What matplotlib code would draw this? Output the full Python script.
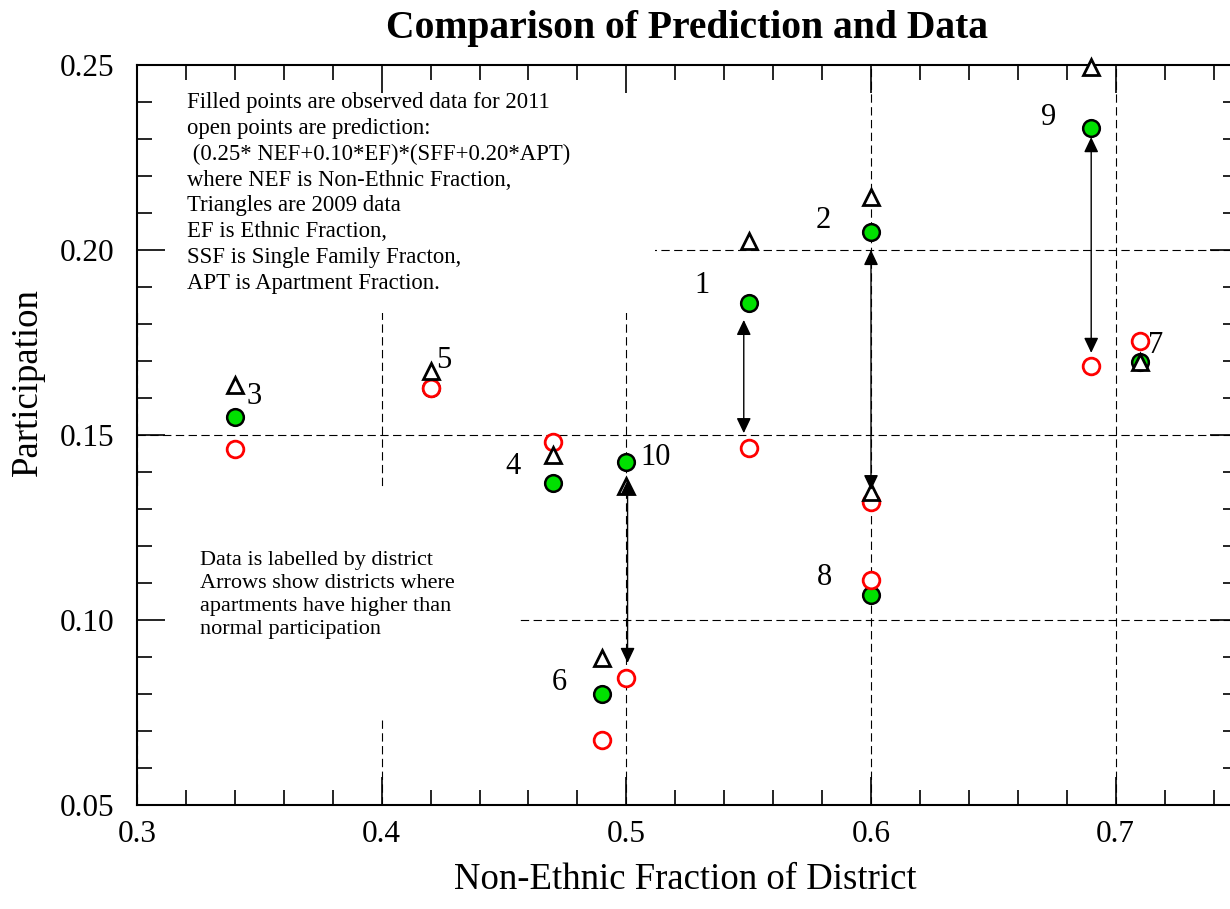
import matplotlib
matplotlib.use("Agg")
import matplotlib.pyplot as plt
from matplotlib.ticker import MultipleLocator, FormatStrFormatter
from matplotlib.patches import Rectangle

plt.rcParams['font.family'] = ['Liberation Serif', 'DejaVu Serif']

# ---------------- data ----------------
districts = ['1', '2', '3', '4', '5', '6', '7', '8', '9', '10']
nef = [0.55, 0.60, 0.34, 0.47, 0.42, 0.49, 0.71, 0.60, 0.69, 0.50]
observed_2011 = [0.1857, 0.2049, 0.1549, 0.1370, 0.1627, 0.0800, 0.1697, 0.1068, 0.2330, 0.1427]
predicted = [0.1465, 0.1319, 0.1462, 0.1481, 0.1627, 0.0676, 0.1754, 0.1108, 0.1686, 0.0843]
data_2009 = [0.2024, 0.2143, 0.1635, 0.1446, 0.1673, 0.0897, 0.1697, 0.1346, 0.2495, 0.1362]

# district label anchor positions (data coords)
label_x = [0.531, 0.5805, 0.3478, 0.4537, 0.4255, 0.4725, 0.7162, 0.5809, 0.6724, 0.5118]
label_y = [0.1905, 0.2081, 0.1603, 0.1414, 0.1700, 0.0830, 0.1743, 0.1116, 0.2357, 0.1440]

# arrows (apartment effect)
arrow_x = [0.548, 0.600, 0.690, 0.5005]
arrow_top = [0.1811, 0.2000, 0.2305, 0.1378]
arrow_bottom = [0.1505, 0.1351, 0.1722, 0.0884]

note_top = ("Filled points are observed data for 2011\n"
            "open points are prediction:\n"
            " (0.25* NEF+0.10*EF)*(SFF+0.20*APT)\n"
            "where NEF is Non-Ethnic Fraction,\n"
            "Triangles are 2009 data\n"
            "EF is Ethnic Fraction,\n"
            "SSF is Single Family Fracton,\n"
            "APT is Apartment Fraction.")
note_bottom = ("Data is labelled by district\n"
               "Arrows show districts where\n"
               "apartments have higher than\n"
               "normal participation")

# ---------------- figure ----------------
W, H = 1230, 909
fig = plt.figure(figsize=(W / 100, H / 100), dpi=100)
ax = fig.add_axes([137 / W, 104 / H, 1101 / W, 740 / H])
ax.set_xlim(0.3, 0.75)
ax.set_ylim(0.05, 0.25)

ax.xaxis.set_major_locator(MultipleLocator(0.1))
ax.xaxis.set_minor_locator(MultipleLocator(0.02))
ax.yaxis.set_major_locator(MultipleLocator(0.05))
ax.yaxis.set_minor_locator(MultipleLocator(0.01))
ax.xaxis.set_major_formatter(FormatStrFormatter('%.1f'))
ax.yaxis.set_major_formatter(FormatStrFormatter('%.2f'))

ax.tick_params(which='both', direction='in', top=True, right=True, width=1.2, labelsize=22.5)
ax.tick_params(which='major', length=20)
ax.tick_params(which='minor', length=10.8)
ax.tick_params(axis='x', which='major', pad=11)
ax.tick_params(axis='y', which='major', pad=16)
for s in ax.spines.values():
    s.set_linewidth(1.5)

# dashed reference lines at major ticks
dash = (0, (7.5, 4))
for xv in ax.get_xticks():
    if 0.3 < xv < 0.75:
        ax.axvline(xv, color='black', lw=0.8, ls=dash, zorder=0.5)
for yv in ax.get_yticks():
    if 0.05 < yv < 0.25:
        ax.axhline(yv, color='black', lw=0.8, ls=dash, zorder=0.5)

# white panels behind notes
ax.add_patch(Rectangle((0.0, 0.6649), 0.4705, 0.3351, transform=ax.transAxes,
                       facecolor='white', edgecolor='none', zorder=1))
ax.add_patch(Rectangle((0.0, 0.1176), 0.345, 0.4297 - 0.1176, transform=ax.transAxes,
                       facecolor='white', edgecolor='none', zorder=1))

# markers
ax.plot(nef, observed_2011, ls='none', marker='o', ms=12, mfc='#00e000', mec='black',
        mew=1.8, zorder=3, clip_on=False)
ax.plot(nef, predicted, ls='none', marker='o', ms=12, mfc='white', mec='#ff0000',
        mew=2.0, zorder=4, clip_on=False)
ax.plot(nef, data_2009, ls='none', marker='^', ms=11.5, mfc='white', mec='black',
        mew=2.0, zorder=5, clip_on=False)

# arrows
for xa, yt, yb in zip(arrow_x, arrow_top, arrow_bottom):
    ax.annotate('', xy=(xa, yb), xytext=(xa, yt),
                arrowprops=dict(arrowstyle='<|-|>,head_length=0.4,head_width=0.19',
                                mutation_scale=23, color='black', lw=1.0,
                                shrinkA=0, shrinkB=0), zorder=6)

# district labels
for lab, lx, ly in zip(districts, label_x, label_y):
    ax.text(lx, ly, lab, fontsize=22, ha='center', va='center', zorder=7)

# notes
ax.text(0.0454, 0.9635, note_top, transform=ax.transAxes, fontsize=16.4,
        ha='left', va='top', linespacing=1.3, zorder=7)
ax.text(0.0572, 0.3435, note_bottom, transform=ax.transAxes, fontsize=16,
        ha='left', va='top', linespacing=1.3, zorder=7)

# titles / labels
fig.text(687 / W, 1 - 38 / H, 'Comparison of Prediction and Data', fontsize=28.5,
         fontweight='bold', ha='center', va='baseline')
ax.set_xlabel('Non-Ethnic Fraction of District', fontsize=26.5)
ax.xaxis.set_label_coords(685 / W, 1 - 880 / H, transform=fig.transFigure)
ax.xaxis.label.set_va('center')
ax.set_ylabel('Participation', fontsize=26.5)
ax.yaxis.set_label_coords(28 / W, 1 - 382 / H, transform=fig.transFigure)
ax.yaxis.label.set_va('center')

fig.savefig('out.png', dpi=100)
